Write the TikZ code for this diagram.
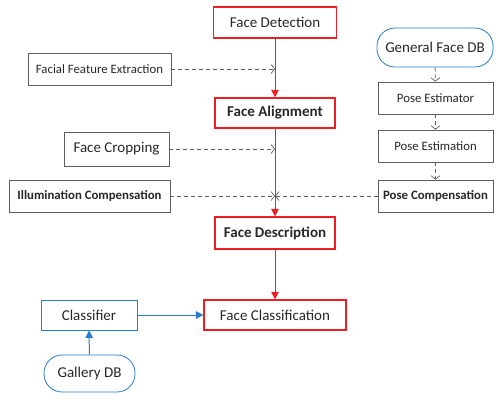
\documentclass[tikz,border=0pt]{standalone}
\usepackage{fontspec}
\setmainfont{Carlito}
\usetikzlibrary{arrows.meta}
\definecolor{boxred}{RGB}{240,30,35}
\definecolor{boxblue}{RGB}{40,125,200}
\definecolor{boxgray}{RGB}{95,95,95}
\definecolor{txtgray}{RGB}{40,40,40}

\begin{document}
\begin{tikzpicture}[x=1pt,y=-1pt,
        box/.style={draw=boxgray,fill=white,line width=0.8pt,text=txtgray,inner sep=0pt},
        redbox/.style={box,draw=boxred,line width=1.2pt,font=\fontsize{15}{18}\selectfont},
        smallbox/.style={box,font=\fontsize{12.8}{15}\selectfont},
        bigbox/.style={box,font=\fontsize{15}{18}\selectfont},
        dbbox/.style={box,draw=boxblue,rounded corners=18pt,font=\fontsize{15}{18}\selectfont},
        bluebox/.style={box,draw=boxblue,font=\fontsize{15}{18}\selectfont},
        redline/.style={draw=boxred,line width=1pt,-{Triangle[length=7.5pt,width=7.5pt]}},
        blueline/.style={draw=boxblue,line width=1pt,-{Triangle[length=7.5pt,width=7.5pt]}},
        dashin/.style={draw=boxgray,line width=0.7pt,dash pattern=on 4pt off 3pt,
            -{Straight Barb[length=3.5pt,width=9pt]}}]
        \useasboundingbox (0,0) rectangle (502,400);
        % main column
        \node[redbox,minimum width=123,minimum height=31] (det) at (275,22.5) {Face Detection};
        \node[redbox,minimum width=120,minimum height=30,font=\fontsize{15}{18}\selectfont\bfseries] (align) at (275,113) {Face Alignment};
        \node[redbox,minimum width=120,minimum height=32,font=\fontsize{15}{18}\selectfont\bfseries] (desc) at (275,233) {Face Description};
        \node[redbox,minimum width=142,minimum height=30] (cls) at (275,315) {Face Classification};
        % left side
        \node[smallbox,minimum width=143,minimum height=32] (ffe) at (99.5,69) {Facial Feature Extraction};
        \node[bigbox,minimum width=105,minimum height=34] (crop) at (116.5,149) {Face Cropping};
        \node[smallbox,minimum width=161,minimum height=32,font=\fontsize{12.8}{15}\selectfont\bfseries] (illum) at (89.5,196) {Illumination Compensation};
        % right side
        \node[dbbox,minimum width=116,minimum height=39] (gdb) at (435,47.5) {General Face DB};
        \node[smallbox,minimum width=115,minimum height=32] (posest) at (435.5,98) {Pose Estimator};
        \node[smallbox,minimum width=115,minimum height=32] (posestn) at (435.5,146) {Pose Estimation};
        \node[smallbox,minimum width=115,minimum height=32,font=\fontsize{12.8}{15}\selectfont\bfseries] (posecomp) at (435.5,196) {Pose Compensation};
        % classifier
        \node[bluebox,minimum width=96,minimum height=30] (classifier) at (89,315) {Classifier};
        \node[dbbox,minimum width=91,minimum height=37] (gallery) at (89.5,373.5) {Gallery DB};

        \draw[redline] (det) -- (align);
        \draw[redline] (align) -- (desc);
        \draw[redline] (desc) -- (cls);

        \draw[dashin] (ffe) -- (ffe -| det);
        \draw[dashin] (crop) -- (crop -| det);
        \draw[dashin] (illum) -- (illum -| det);
        \draw[dashin] (posecomp) -- (posecomp -| det);

        \draw[dashin] (gdb) -- (posest);
        \draw[dashin] (posest) -- (posestn);
        \draw[dashin] (posestn) -- (posecomp);

        \draw[blueline] (classifier) -- (cls);
        \draw[blueline] (gallery) -- (classifier);
    \end{tikzpicture}
\end{document}
